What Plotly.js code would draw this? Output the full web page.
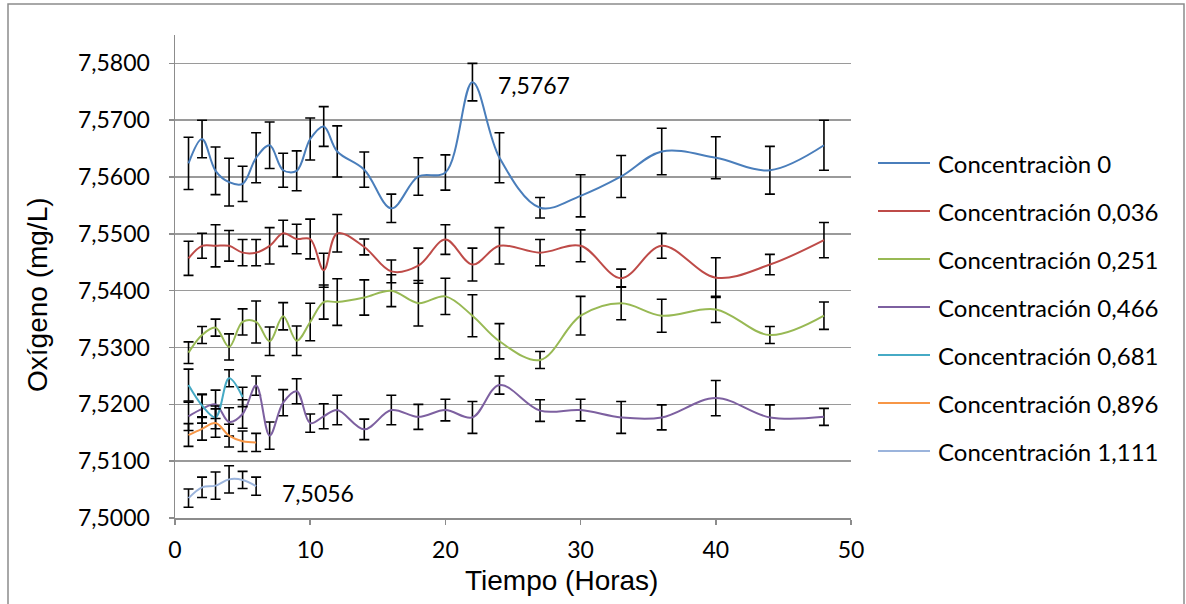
<!DOCTYPE html>
<html><head><meta charset="utf-8">
<script src="https://cdn.plot.ly/plotly-3.0.1.min.js"></script>
<style>html,body{margin:0;padding:0;background:#fff;}#chart{width:1186px;height:604px;}</style>
</head><body><div id="chart"></div>
<script>
const xFull = [1,2,3,4,5,6,7,8,9,10,11,12,14,16,18,20,22,24,27,30,33,36,40,44,48];
const xShort5 = [1,2,3,4,5];
const xShort6 = [1,2,3,4,5,6];

const c0 = [7.5624,7.5667,7.5611,7.5591,7.5588,7.5634,7.5656,7.5612,7.5611,7.5667,7.5689,7.5645,7.5613,7.5545,7.5601,7.5608,7.5767,7.5634,7.5546,7.5567,7.5601,7.5645,7.5634,7.5612,7.5656];
const e0 = [0.0046,0.0033,0.0042,0.0042,0.0031,0.0044,0.0041,0.0030,0.0035,0.0037,0.0035,0.0045,0.0031,0.0025,0.0033,0.0031,0.0033,0.0044,0.0018,0.0037,0.0037,0.0041,0.0037,0.0042,0.0044];

const c036 = [7.5457,7.5479,7.5479,7.5479,7.5467,7.5467,7.5479,7.5501,7.5491,7.5491,7.5436,7.5501,7.5477,7.5434,7.5444,7.5490,7.5446,7.5479,7.5467,7.5479,7.5422,7.5479,7.5423,7.5446,7.5489];
const e036 = [0.0030,0.0022,0.0037,0.0027,0.0023,0.0023,0.0032,0.0023,0.0026,0.0035,0.0030,0.0033,0.0014,0.0020,0.0031,0.0026,0.0029,0.0032,0.0023,0.0028,0.0016,0.0022,0.0035,0.0018,0.0031];

const c251 = [7.5291,7.5322,7.5335,7.5301,7.5345,7.5345,7.5311,7.5355,7.5312,7.5345,7.5380,7.5380,7.5388,7.5400,7.5378,7.5390,7.5356,7.5311,7.5278,7.5356,7.5378,7.5356,7.5367,7.5322,7.5356];
const e251 = [0.0019,0.0015,0.0015,0.0023,0.0023,0.0037,0.0025,0.0024,0.0026,0.0033,0.0030,0.0041,0.0031,0.0028,0.0040,0.0032,0.0037,0.0031,0.0015,0.0034,0.0029,0.0029,0.0023,0.0015,0.0024];

const c466 = [7.5179,7.5192,7.5200,7.5169,7.5183,7.5233,7.5145,7.5203,7.5223,7.5167,7.5179,7.5190,7.5156,7.5190,7.5178,7.5190,7.5177,7.5234,7.5189,7.5190,7.5177,7.5177,7.5211,7.5177,7.5178];
const e466 = [0.0025,0.0025,0.0025,0.0025,0.0025,0.0017,0.0024,0.0023,0.0022,0.0016,0.0022,0.0026,0.0018,0.0026,0.0022,0.0019,0.0028,0.0016,0.0019,0.0019,0.0028,0.0022,0.0031,0.0022,0.0015];

const c681 = [7.5234,7.5198,7.5177,7.5246,7.5213];
const e681 = [0.0028,0.0020,0.0020,0.0015,0.0017];

const c896 = [7.5146,7.5157,7.5167,7.5145,7.5135,7.5133];
const e896 = [0.0020,0.0020,0.0025,0.0020,0.0018,0.0016];

const c1111 = [7.5035,7.5054,7.5057,7.5068,7.5067,7.5056];
const e1111 = [0.0016,0.0018,0.0024,0.0024,0.0015,0.0016];

const seriesNames = ["Concentraciòn 0","Concentración 0,036","Concentración 0,251","Concentración 0,466","Concentración 0,681","Concentración 0,896","Concentración 1,111"];
const seriesColors = ["#4a7ebb","#be4b48","#98b954","#7d60a0","#46aac5","#f79646","#9bb4dc"];
const seriesX = [xFull,xFull,xFull,xFull,xShort5,xShort6,xShort6];
const seriesY = [c0,c036,c251,c466,c681,c896,c1111];
const seriesE = [e0,e036,e251,e466,e681,e896,e1111];

const yTicks = [7.50,7.51,7.52,7.53,7.54,7.55,7.56,7.57,7.58];
const yTickText = ["7,5000","7,5100","7,5200","7,5300","7,5400","7,5500","7,5600","7,5700","7,5800"];
const xTicks = [0,10,20,30,40,50];
const xTickText = ["0","10","20","30","40","50"];

const FONT = "Lato, 'Open Sans', sans-serif";
const TFONT = "'Liberation Sans', Arial, sans-serif";

// plot area geometry (px) used to place legend / titles in paper coords
const W = 1186, H = 604, ML = 175, MR = 335, MT = 35, MB = 86;
const PW = W - ML - MR, PH = H - MT - MB;
const px2x = p => (p - ML) / PW;
const px2y = p => (H - MB - p) / PH;

const traces = seriesNames.map((n,i)=>({
  type:'scatter', mode:'lines', name:n, x:seriesX[i], y:seriesY[i],
  line:{color:seriesColors[i], width:2, shape:'spline', smoothing:1},
  error_y:{type:'data', array:seriesE[i], visible:true, color:'#000', thickness:1.6, width:5},
  hoverinfo:'x+y', showlegend:false
}));

const shapes = [
  {type:'rect', xref:'paper', yref:'paper', x0:px2x(8), x1:px2x(1184), y0:px2y(640), y1:px2y(4), line:{color:'#8c8c8c', width:1.5}, fillcolor:'rgba(0,0,0,0)', layer:'below'}
];
const annotations = [
  {x:22, y:c0[16], xref:'x', yref:'y', text:'7,5767', showarrow:false, xanchor:'left', yanchor:'middle', xshift:24, yshift:-3, font:{family:FONT,size:23}},
  {x:6, y:c1111[5], xref:'x', yref:'y', text:'7,5056', showarrow:false, xanchor:'left', yanchor:'middle', xshift:24, yshift:-7, font:{family:FONT,size:23}},
  {x:px2x(561), y:px2y(580), xref:'paper', yref:'paper', text:'Tiempo (Horas)', showarrow:false, xanchor:'center', yanchor:'middle', font:{family:TFONT,size:28}},
  {x:px2x(37), y:px2y(295), xref:'paper', yref:'paper', text:'Oxígeno (mg/L)', showarrow:false, textangle:-90, xanchor:'center', yanchor:'middle', font:{family:TFONT,size:28}}
];
// legend drawn from the series arrays
seriesNames.forEach((n,i)=>{
  const cy = 163 + 48*i;
  shapes.push({type:'line', xref:'paper', yref:'paper', x0:px2x(878), x1:px2x(930), y0:px2y(cy), y1:px2y(cy), line:{color:seriesColors[i], width:2}});
  annotations.push({x:px2x(936), y:px2y(cy), xref:'paper', yref:'paper', text:n, showarrow:false, xanchor:'left', yanchor:'middle', font:{family:FONT,size:24}});
});

const axisCommon = {zeroline:false, showline:true, linecolor:'#8c8c8c', linewidth:1.5, ticks:'outside', ticklen:5, tickcolor:'#8c8c8c', tickwidth:1.5, fixedrange:true, tickfont:{family:FONT, size:23}};

const layout = {
  width:W, height:H,
  margin:{l:ML, r:MR, t:MT, b:MB},
  paper_bgcolor:'#fff', plot_bgcolor:'#fff',
  font:{family:FONT, size:21, color:'#000'},
  showlegend:false,
  xaxis:Object.assign({}, axisCommon, {range:[0,50], tickvals:xTicks, ticktext:xTickText, showgrid:false, ticklabelstandoff:6}),
  yaxis:Object.assign({}, axisCommon, {range:[7.5,7.585], tickvals:yTicks, ticktext:yTickText, showgrid:true, gridcolor:'#9a9a9a', gridwidth:1.5, ticklabelstandoff:14}),
  xaxis2:{overlaying:'x', range:[0,50], tickvals:xTicks, showticklabels:false, ticks:'inside', ticklen:5, tickcolor:'#8c8c8c', tickwidth:1.5, showgrid:false, zeroline:false, showline:false, fixedrange:true, anchor:'y'},
  yaxis2:{overlaying:'y', range:[7.5,7.585], tickvals:yTicks, showticklabels:false, ticks:'inside', ticklen:5, tickcolor:'#8c8c8c', tickwidth:1.5, showgrid:false, zeroline:false, showline:false, fixedrange:true, anchor:'x', side:'left'},
  annotations:annotations,
  shapes:shapes
};

Plotly.newPlot('chart', traces, layout, {displayModeBar:false, staticPlot:true});
</script></body></html>
